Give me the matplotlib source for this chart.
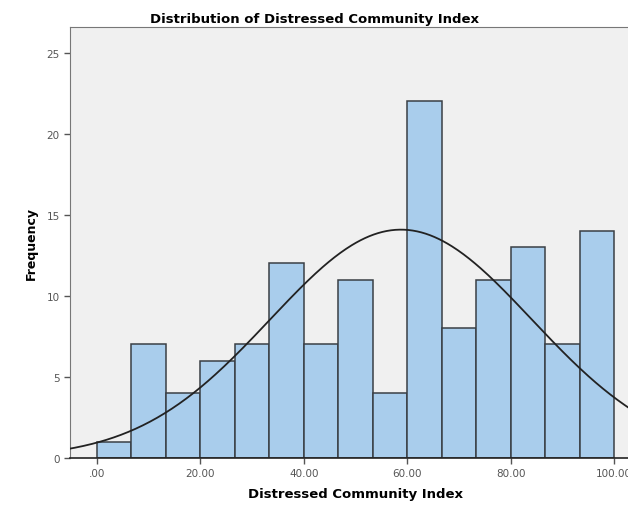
import numpy as np
import matplotlib
matplotlib.use("Agg")
from matplotlib import pyplot as plt

# histogram bins (15 bins from 0 to 100) and counts
bin_edges = np.linspace(0, 100, 16)
counts = [1, 7, 4, 6, 7, 12, 7, 11, 4, 22, 8, 11, 13, 7, 14]
mean, std = 58.8, 25.3
x_ticks = [0, 20, 40, 60, 80, 100]
x_labels = [".00", "20.00", "40.00", "60.00", "80.00", "100.00"]
y_ticks = [0, 5, 10, 15, 20, 25]

fig = plt.figure(figsize=(6.28, 5.06), dpi=100)
ax = fig.add_axes([0.1115, 0.093, 0.909, 0.852])
ax.set_facecolor("#f0f0f0")

widths = np.diff(bin_edges)
ax.bar(bin_edges[:-1], counts, width=widths, align="edge",
       color="#a9cdec", edgecolor="#3a3f45", linewidth=1.1, zorder=2)

n = sum(counts)
bw = widths[0]
xs = np.linspace(-6, 106, 400)
ys = n * bw / (std * np.sqrt(2 * np.pi)) * np.exp(-0.5 * ((xs - mean) / std) ** 2)
ax.plot(xs, ys, color="#222222", linewidth=1.3, zorder=3)

ax.set_xlim(-5.2, 105.2)
ax.set_ylim(0, 26.6)
ax.set_xticks(x_ticks)
ax.set_xticklabels(x_labels)
ax.set_yticks(y_ticks)
ax.tick_params(axis="both", labelsize=7.5, colors="#555555", length=4, width=1)

for s in ["left", "top", "right"]:
    ax.spines[s].set_color("#777777")
ax.spines["bottom"].set_color("#222222")
ax.spines["bottom"].set_linewidth(1.2)

fig.text(0.5, 0.962, "Distribution of Distressed Community Index",
         ha="center", va="center", fontsize=9.5, fontweight="bold")
ax.set_xlabel("Distressed Community Index", fontsize=9.5, fontweight="bold", labelpad=6)
ax.set_ylabel("Frequency", fontsize=9, fontweight="bold", labelpad=6)

plt.savefig("out.png", dpi=100)
plt.close()
